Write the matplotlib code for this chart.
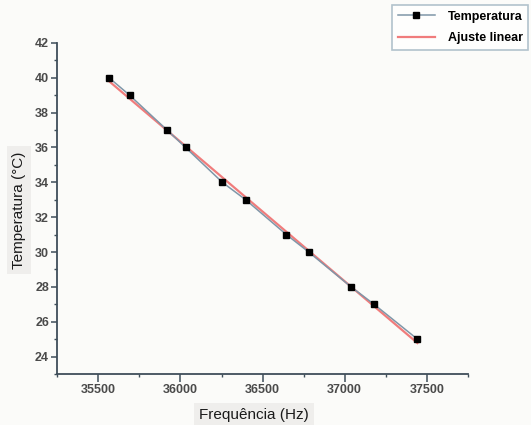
import numpy as np
import matplotlib
matplotlib.use('Agg')
import matplotlib.pyplot as plt
from matplotlib.ticker import MultipleLocator

# data
freq = [35565, 35690, 35918, 36031, 36255, 36397, 36645, 36781, 37039, 37179, 37443]
temp = [40, 39, 37, 36, 34, 33, 31, 30, 28, 27, 25]

x_ticks = [35500, 36000, 36500, 37000, 37500]
y_ticks = [24, 26, 28, 30, 32, 34, 36, 38, 40, 42]

plt.rcParams['font.family'] = ['Liberation Sans', 'DejaVu Sans']

bg = '#fbfbf9'
axis_col = '#3f4e5a'
fig = plt.figure(figsize=(5.31, 4.25), dpi=100, facecolor=bg)
ax = fig.add_axes([0.108, 0.12, 0.773, 0.779], facecolor=bg)

# linear fit of the points
a, b = np.polyfit(freq, temp, 1)
fit_x = np.array([freq[0], freq[-1]])
ax.plot(fit_x, a * fit_x + b, color='#f07c7c', lw=1.6, label='Ajuste linear', zorder=2)
ax.plot(freq, temp, color='#7f96a8', lw=1.1, marker='s', ms=4.6,
        mfc='black', mec='black', label='Temperatura', zorder=3)

ax.set_xlim(35250, 37750)
ax.set_ylim(23, 42)
ax.set_xticks(x_ticks)
ax.set_yticks(y_ticks)
ax.xaxis.set_minor_locator(MultipleLocator(250))
ax.yaxis.set_minor_locator(MultipleLocator(1))

for s in ['top', 'right']:
    ax.spines[s].set_visible(False)
for s in ['left', 'bottom']:
    ax.spines[s].set_color(axis_col)
    ax.spines[s].set_linewidth(1.3)

ax.tick_params(axis='both', which='major', direction='out', color=axis_col,
               width=1.1, labelsize=9, labelcolor='#4a4a4a')
ax.tick_params(axis='x', which='major', length=5.5, pad=2)
ax.tick_params(axis='y', which='major', length=4, pad=2)
ax.tick_params(axis='both', which='minor', direction='out', length=2.5,
               width=1.0, color=axis_col)
for lbl in ax.get_xticklabels() + ax.get_yticklabels():
    lbl.set_fontweight('bold')

fig.text(0.478, 0.023, 'Frequência (Hz)', fontsize=11, ha='center', va='center',
         color='#1a1a1a',
         bbox=dict(boxstyle='square,pad=0.35', fc='#efeeec', ec='none'))
fig.text(0.036, 0.505, 'Temperatura (°C)', fontsize=11, rotation=90,
         ha='center', va='center', color='#1a1a1a',
         bbox=dict(boxstyle='square,pad=0.35', fc='#efeeec', ec='none'))

handles, labels = ax.get_legend_handles_labels()
leg = fig.legend(handles[::-1], labels[::-1], loc='upper left',
                 bbox_to_anchor=(0.738, 0.988), frameon=True, fancybox=False,
                 prop={'size': 9, 'weight': 'bold'}, handlelength=3.0,
                 borderpad=0.45, labelspacing=0.75, handletextpad=1.0,
                 borderaxespad=0)
leg.get_frame().set_edgecolor('#9fb4c0')
leg.get_frame().set_linewidth(1.2)
leg.get_frame().set_facecolor('white')

fig.savefig('out.png', dpi=100, facecolor=bg)
